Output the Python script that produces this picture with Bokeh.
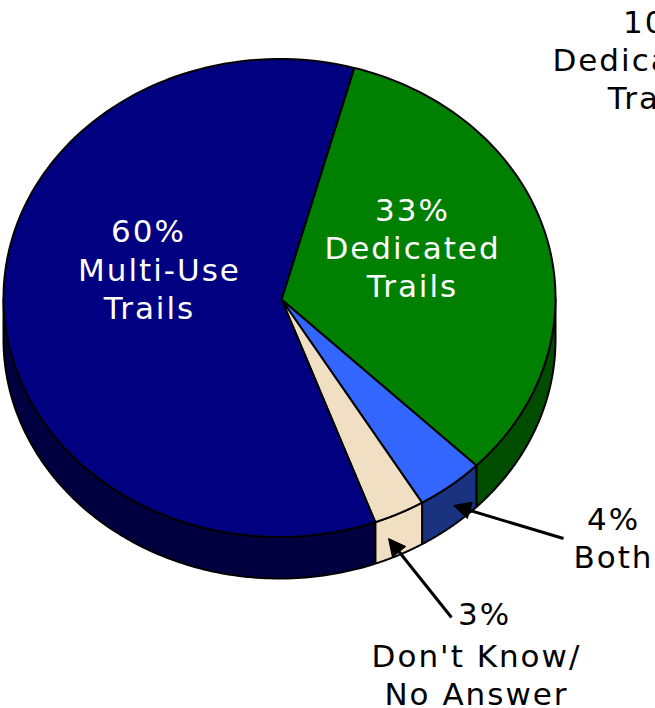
import numpy as np
from bokeh.plotting import figure
from bokeh.models import Range1d, Arrow, NormalHead
from bokeh.core.properties import value
from bokeh.embed import file_html
from bokeh.resources import INLINE

categories = ["Dedicated Trails", "Both", "Don't Know/No Answer", "Multi-Use Trails"]
shares = [33, 4, 3, 60]
top_colors = ["#008000", "#3366ff", "#f0dfc2", "#000080"]
side_colors = ["#004d00", "#1a3380", "#f0dfc2", "#000040"]
start_angle = 15.7

labels = ["60%", "Multi-Use", "Trails", "33%", "Dedicated", "Trails", "4%", "Both",
          "3%", "Don't Know/", "No Answer", "10%", "Dedicated", "Trails"]
label_x = [148, 159, 149, 412, 412, 412, 613, 613, 484, 476, 476, 660, 640, 653]
label_y = [230, 269, 307, 209, 247, 285, 518, 556, 613, 655, 693, 21, 59, 97]
label_colors = ["white"] * 6 + ["black"] * 8

W, H = 655, 708
CX, CY, RX, RY, DEPTH = 279, 297.5, 276, 239, 41.5
APEX_X, APEX_Y = 281, 299
SPACING = 2

p = figure(width=W, height=H, output_backend="svg", toolbar_location=None,
           x_range=Range1d(0, W), y_range=Range1d(H, 0),
           min_border=0, outline_line_color=None, background_fill_color="white")
p.axis.visible = False
p.grid.visible = False
p.styles = {"position": "absolute", "left": "0px", "top": "0px", "letter-spacing": f"{SPACING}px"}


def arc(a0, a1):
    t = np.radians(np.linspace(a0, a1, 120))
    return CX + RX * np.sin(t), CY - RY * np.cos(t)


edges = start_angle + np.concatenate([[0], np.cumsum(shares)]) * 3.6

# side walls: only the front part of the rim (90..270 degrees from the top)
for a0, a1, col in zip(edges[:-1], edges[1:], side_colors):
    lo, hi = max(a0, 90), min(a1, 270)
    if lo >= hi:
        continue
    x, y = arc(lo, hi)
    p.patch(np.concatenate([x, x[::-1]]), np.concatenate([y, y[::-1] + DEPTH]),
            fill_color=col, line_color="black", line_width=2)

# top faces
for a0, a1, col in zip(edges[:-1], edges[1:], top_colors):
    x, y = arc(a0, a1)
    p.patch(np.concatenate([[APEX_X], x]), np.concatenate([[APEX_Y], y]),
            fill_color=col, line_color="black", line_width=2, line_join="round")

# the letter spacing is not part of Bokeh's measured anchor: compensate for it
shifted_x = [x - len(t) * SPACING / 2 for x, t in zip(label_x, labels)]
p.text(shifted_x, label_y, text=labels, text_color=label_colors, text_align="center",
       text_baseline="middle", text_font=value("DejaVu Sans"), text_font_size="31px")

head = dict(size=17, fill_color="black", line_color="black", line_width=1)
p.add_layout(Arrow(end=NormalHead(**head), x_start=563, y_start=538, x_end=453, y_end=505,
                   line_color="black", line_width=3))
p.add_layout(Arrow(end=NormalHead(**head), x_start=451, y_start=617, x_end=388, y_end=538,
                   line_color="black", line_width=3))

open("out.html", "w").write(file_html(p, INLINE))
